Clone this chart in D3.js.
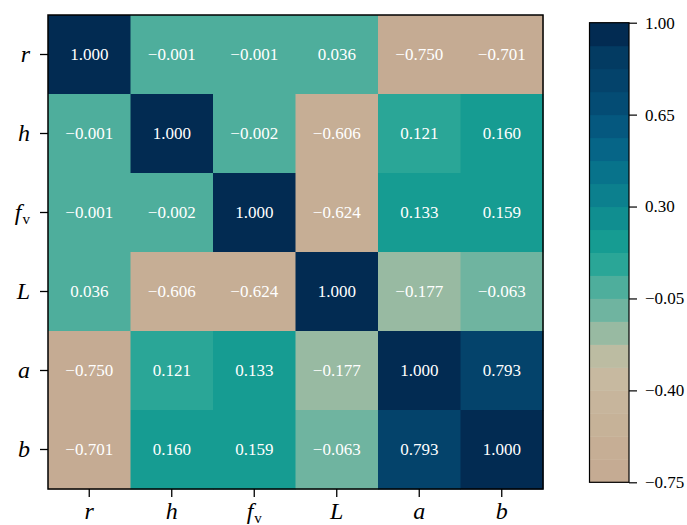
<!DOCTYPE html>
<html>
<head>
<meta charset="utf-8">
<script src="https://cdn.jsdelivr.net/npm/d3@7/dist/d3.min.js"></script>
</head>
<body style="margin:0;background:#fff">
<svg id="chart" width="687" height="525" style="display:block"></svg>
<script>
// Variables (row/column order) and their correlation matrix
const variables = ["r", "h", "fv", "L", "a", "b"];
const rowR  = [ 1.000, -0.001, -0.001,  0.036, -0.750, -0.701];
const rowH  = [-0.001,  1.000, -0.002, -0.606,  0.121,  0.160];
const rowFv = [-0.001, -0.002,  1.000, -0.624,  0.133,  0.159];
const rowL  = [ 0.036, -0.606, -0.624,  1.000, -0.177, -0.063];
const rowA  = [-0.750,  0.121,  0.133, -0.177,  1.000,  0.793];
const rowB  = [-0.701,  0.160,  0.159, -0.063,  0.793,  1.000];
const matrix = [rowR, rowH, rowFv, rowL, rowA, rowB];

// Colour bar range and tick values
const colorDomain = [-0.75, 1.00];
const colorTicks = [1.00, 0.65, 0.30, -0.05, -0.40, -0.75];

// 20-step palette, low (tan) to high (navy)
const palette = [
  "#c5ab93", "#c6ae95", "#c6b298", "#c7b59c", "#c7b9a0",
  "#bcbca2", "#98baa2", "#6fb4a0", "#4eae9c", "#2aa697",
  "#169c92", "#108e90", "#0c808e", "#08738b", "#066587",
  "#05587f", "#044c74", "#04436b", "#033b62", "#022b52"
];

const SERIF = '"Liberation Serif"';

const svg = d3.select("#chart");

const hm = { left: 48, top: 15, width: 495, height: 474 };
const cb = { left: 589.5, top: 22.7, width: 39.5, height: 459.6 };

const color = d3.scaleQuantize().domain(colorDomain).range(palette);

const x = d3.scaleBand().domain(variables).range([hm.left, hm.left + hm.width]);
const y = d3.scaleBand().domain(variables).range([hm.top, hm.top + hm.height]);

const cells = [];
matrix.forEach((row, i) => row.forEach((v, j) => cells.push({ row: variables[i], col: variables[j], v })));

const fmt3 = d3.format(".3f");

// Heatmap cells
svg.append("g").selectAll("rect")
  .data(cells)
  .join("rect")
  .attr("x", d => x(d.col))
  .attr("y", d => y(d.row))
  .attr("width", x.bandwidth() + 0.5)
  .attr("height", y.bandwidth() + 0.5)
  .attr("fill", d => color(d.v));

// Cell value annotations
svg.append("g").selectAll("text")
  .data(cells)
  .join("text")
  .attr("x", d => x(d.col) + x.bandwidth() / 2)
  .attr("y", d => y(d.row) + y.bandwidth() / 2)
  .attr("dy", "0.35em")
  .attr("text-anchor", "middle")
  .attr("fill", "#ffffff")
  .style("font-family", SERIF)
  .style("font-size", "17px")
  .text(d => fmt3(d.v));

// Frame around the heatmap
svg.append("rect")
  .attr("x", hm.left).attr("y", hm.top)
  .attr("width", hm.width).attr("height", hm.height)
  .attr("fill", "none").attr("stroke", "#000").attr("stroke-width", 1.5);

// Axis label with italic symbol and optional upright subscript
function writeLabel(sel, name) {
  sel.text(null);
  if (name === "fv") {
    sel.append("tspan").style("font-style", "italic").text("f");
    sel.append("tspan").style("font-style", "normal").style("font-size", "15px")
      .attr("dy", "0.25em").attr("dx", "1").text("v");
  } else {
    sel.append("tspan").style("font-style", "italic").text(name);
  }
}

const yAxis = svg.append("g")
  .attr("transform", `translate(${hm.left},0)`)
  .call(d3.axisLeft(y).tickSize(8).tickPadding(10));
yAxis.select(".domain").remove();
yAxis.selectAll(".tick line").attr("stroke", "#000").attr("stroke-width", 1.3);
yAxis.selectAll(".tick text")
  .attr("fill", "#000").style("font-family", SERIF).style("font-size", "24px")
  .each(function(d) { writeLabel(d3.select(this), d); });

const xAxis = svg.append("g")
  .attr("transform", `translate(0,${hm.top + hm.height})`)
  .call(d3.axisBottom(x).tickSize(8).tickPadding(5));
xAxis.select(".domain").remove();
xAxis.selectAll(".tick line").attr("stroke", "#000").attr("stroke-width", 1.3);
xAxis.selectAll(".tick text")
  .attr("fill", "#000").style("font-family", SERIF).style("font-size", "24px")
  .each(function(d) { writeLabel(d3.select(this), d); });

// Colour bar
const cy = d3.scaleLinear().domain(colorDomain).range([cb.top + cb.height, cb.top]);
const step = (colorDomain[1] - colorDomain[0]) / palette.length;
svg.append("g").selectAll("rect")
  .data(palette)
  .join("rect")
  .attr("x", cb.left)
  .attr("y", (c, i) => cy(colorDomain[0] + (i + 1) * step))
  .attr("width", cb.width)
  .attr("height", (c, i) => cy(colorDomain[0] + i * step) - cy(colorDomain[0] + (i + 1) * step) + 0.5)
  .attr("fill", c => c);

svg.append("rect")
  .attr("x", cb.left).attr("y", cb.top)
  .attr("width", cb.width).attr("height", cb.height)
  .attr("fill", "none").attr("stroke", "#000").attr("stroke-width", 1.2);

const cAxis = svg.append("g")
  .attr("transform", `translate(${cb.left + cb.width},0)`)
  .call(d3.axisRight(cy).tickValues(colorTicks).tickFormat(d3.format(".2f")).tickSize(8).tickPadding(8));
cAxis.select(".domain").remove();
cAxis.selectAll(".tick line").attr("stroke", "#000").attr("stroke-width", 1.2);
cAxis.selectAll(".tick text").attr("fill", "#000")
  .style("font-family", SERIF).style("font-size", "17px");
</script>
</body>
</html>
